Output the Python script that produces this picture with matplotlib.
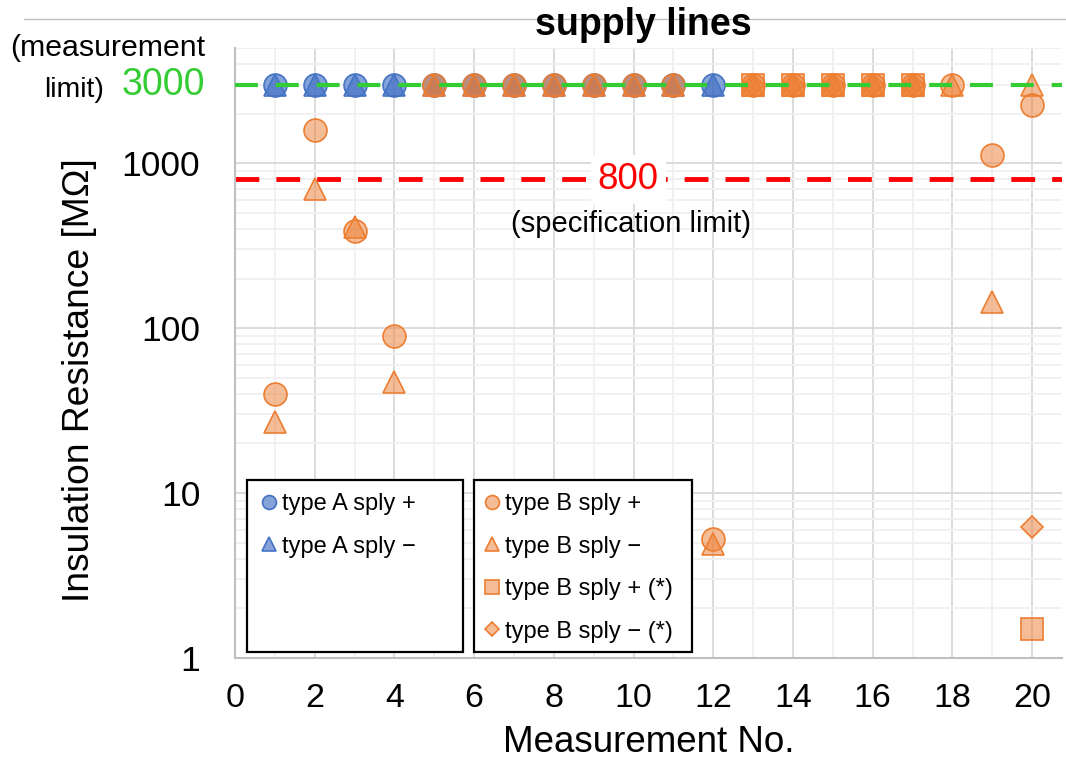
import numpy as np
import matplotlib.pyplot as plt
from matplotlib.lines import Line2D
from matplotlib.patches import Rectangle
from matplotlib.ticker import LogLocator, MultipleLocator, NullFormatter

plt.rcParams['font.family'] = ['Liberation Sans', 'DejaVu Sans']

nan = np.nan

# measurement data [MOhm]
meas_no = list(range(1, 21))
type_a_pos = [3000, 3000, 3000, 3000, 3000, 3000, 3000, 3000, 3000, 3000,
              3000, 3000, nan, nan, nan, nan, nan, nan, nan, nan]
type_a_neg = [3000, 3000, 3000, 3000, 3000, 3000, 3000, 3000, 3000, 3000,
              3000, 3000, nan, nan, nan, nan, nan, nan, nan, nan]
type_b_pos = [40, 1600, 390, 90, 3000, 3000, 3000, 3000, 3000, 3000,
              3000, 5.3, 3000, 3000, 3000, 3000, 3000, 3000, 1130, 2250]
type_b_neg = [27, 700, 410, 47, 3000, 3000, 3000, 3000, 3000, 3000,
              3000, 4.9, 3000, 3000, 3000, 3000, 3000, 3000, 145, 3000]
type_b_pos_x = [nan, nan, nan, nan, nan, nan, nan, nan, nan, nan,
                nan, nan, 3000, 3000, 3000, 3000, 3000, nan, nan, 1.5]
type_b_neg_x = [nan, nan, nan, nan, nan, nan, nan, nan, nan, nan,
                nan, nan, 3000, 3000, 3000, 3000, 3000, nan, nan, 6.2]

meas_limit = 3000
spec_limit = 800

blue = '#4472C4'
orange = '#ED7D31'
blue_fill = (68/255, 114/255, 196/255, 0.65)
orange_fill = (237/255, 125/255, 49/255, 0.5)

fig = plt.figure(figsize=(10.66, 7.70), dpi=100)
ax = fig.add_axes([235/1066, 1 - 658/770, 827/1066, 610/770])

series = [
    (type_a_pos, 'o', 16.5, blue, blue_fill, 'type A sply +', 10),
    (type_a_neg, '^', 15.5, blue, blue_fill, 'type A sply \u2212', 10),
    (type_b_pos, 'o', 16.5, orange, orange_fill, 'type B sply +', 10),
    (type_b_neg, '^', 15.5, orange, orange_fill, 'type B sply \u2212', 10),
    (type_b_pos_x, 's', 16.5, orange, orange_fill, 'type B sply + (*)', 10),
    (type_b_neg_x, 'D', 11, orange, orange_fill, 'type B sply \u2212 (*)', 7),
]

handles = []
for vals, mk, ms, ec, fc, lab, lms in series:
    ax.plot(meas_no, vals, ls='none', marker=mk, ms=ms, mfc=fc, mec=ec,
            mew=1.2, zorder=3)
    handles.append(Line2D([], [], ls='none', marker=mk, ms=lms, mfc=fc,
                          mec=ec, mew=1.2, label=lab))

# limit lines
ax.axhline(meas_limit, color='#33CC33', lw=3, dashes=(5.5, 4.3), zorder=4)
ax.axhline(spec_limit, color='#FF0000', lw=3.5, dashes=(4.9, 3.5), zorder=2)

ax.set_yscale('log')
ax.set_ylim(1, 5000)
ax.set_xlim(0, 20.75)
ax.xaxis.set_major_locator(MultipleLocator(2))
ax.xaxis.set_minor_locator(MultipleLocator(1))
ax.yaxis.set_major_locator(LogLocator(base=10))
ax.yaxis.set_minor_locator(LogLocator(base=10, subs=np.arange(2, 10)))
ax.yaxis.set_minor_formatter(NullFormatter())
ax.set_yticks([1, 10, 100, 1000])
ax.set_yticklabels(['1', '10', '100', '1000'])

ax.grid(which='major', color='#d9d9d9', lw=1.3, zorder=0)
ax.grid(which='minor', color='#f0f0f0', lw=1.3, zorder=0)
ax.set_axisbelow(True)
ax.tick_params(which='both', length=0)
ax.tick_params(axis='x', labelsize=24.5, pad=18)
ax.tick_params(axis='y', labelsize=25.5, pad=25)
for s in ['top', 'right']:
    ax.spines[s].set_visible(False)
for s in ['left', 'bottom']:
    ax.spines[s].set_color('#bfbfbf')
    ax.spines[s].set_linewidth(1.5)

ax.set_xlabel('Measurement No.', fontsize=26.5, labelpad=8)
ax.set_ylabel('Insulation Resistance [M\u03a9]', fontsize=26.8)
ax.yaxis.set_label_coords(-0.167, 0.456)

# annotations
ax.text(9.87, spec_limit, '800', color='#FF0000', fontsize=26.5, ha='center',
        va='center', zorder=5,
        bbox=dict(facecolor='white', edgecolor='none', pad=5))
ax.text(9.94, 430, '(specification limit)', fontsize=21, ha='center',
        va='center', zorder=5)
ax.text(-0.036, meas_limit, '3000', color='#33CC33', fontsize=27,
        ha='right', va='center', transform=ax.get_yaxis_transform())
fig.text(104/1066, 1 - 90/770, 'limit)', fontsize=20.5, ha='right',
         va='center')
fig.text(205/1066, 1 - 48/770, '(measurement', fontsize=21.8, ha='right',
         va='center')

fig.text(643/1066, 1 - 25/770, 'supply lines', fontsize=27, fontweight='bold',
         ha='center', va='center')
fig.add_artist(Line2D([24/1066, 1], [1 - 19/770, 1 - 19/770],
                      color='#c0c0c0', lw=1, zorder=0))

# legend boxes
for x0, x1 in [(247, 463), (474, 692)]:
    fig.add_artist(Rectangle((x0/1066, 1 - 652/770), (x1 - x0)/1066, 172/770,
                             facecolor='white', edgecolor='black', lw=1.6,
                             transform=fig.transFigure, zorder=6))

leg_kw = dict(loc='upper left', frameon=False, fontsize=17, handlelength=0.6,
              handletextpad=0.25, labelspacing=0.87, borderpad=0,
              borderaxespad=0)
leg1 = fig.legend(handles=handles[:2], bbox_to_anchor=(262/1066, 1 - 493/770),
                  **leg_kw)
leg1.set_zorder(7)
leg2 = fig.legend(handles=handles[2:], bbox_to_anchor=(485/1066, 1 - 493/770),
                  **leg_kw)
leg2.set_zorder(7)

fig.savefig('out.png', dpi=100)
